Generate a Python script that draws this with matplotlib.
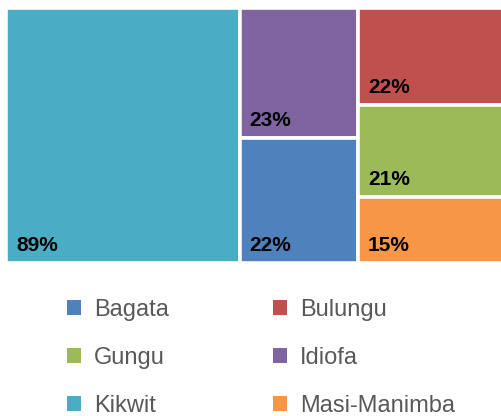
import matplotlib.pyplot as plt
from matplotlib.patches import Rectangle, Patch

# =====================================================
# DATA
# =====================================================

regions = ["Bagata", "Bulungu", "Gungu", "Idiofa", "Kikwit", "Masi-Manimba"]
values = [22, 22, 21, 23, 89, 15]
colors = ["#4F81BD", "#C0504D", "#9BBB59", "#8064A2", "#4BACC6", "#F79646"]

# treemap columns (left to right), each listed top to bottom
columns = [["Kikwit"], ["Idiofa", "Bagata"], ["Bulungu", "Gungu", "Masi-Manimba"]]

# legend reads row-wise in the picture, matplotlib fills column-wise
legend_order = ["Bagata", "Gungu", "Kikwit", "Bulungu", "Idiofa", "Masi-Manimba"]

plt.rcParams["font.family"] = ["Liberation Sans", "DejaVu Sans"]

val = dict(zip(regions, values))
col = dict(zip(regions, colors))
total = sum(values)

fig = plt.figure(figsize=(5.01, 4.16), dpi=100)
ax = fig.add_axes([6 / 501, 1 - 263 / 416, 504 / 501, 255 / 416])
ax.set_xlim(0, 1)
ax.set_ylim(0, 1)
ax.axis("off")

x0 = 0.0
for names in columns:
    col_sum = sum(val[n] for n in names)
    w = col_sum / total
    y_top = 1.0
    for n in names:
        h = val[n] / col_sum
        ax.add_patch(Rectangle((x0, y_top - h), w, h, facecolor=col[n],
                               edgecolor="white", linewidth=2.6))
        ax.annotate(f"{val[n]}%", (x0, y_top - h), xytext=(10, 12),
                    textcoords="offset pixels", ha="left", va="baseline",
                    fontsize=15, fontweight="bold", color="black")
        y_top -= h
    x0 += w

handles = [Patch(facecolor=col[n], edgecolor="none") for n in legend_order]
fig.legend(handles, legend_order, ncol=2, loc="upper left",
           bbox_to_anchor=(67 / 501, 1 - 299 / 416), frameon=False,
           fontsize=17, labelcolor="#595959", handlelength=0.6,
           handleheight=0.6, handletextpad=0.55, columnspacing=4.4,
           labelspacing=1.1, borderpad=0, borderaxespad=0)

fig.savefig("out.png", dpi=100)
